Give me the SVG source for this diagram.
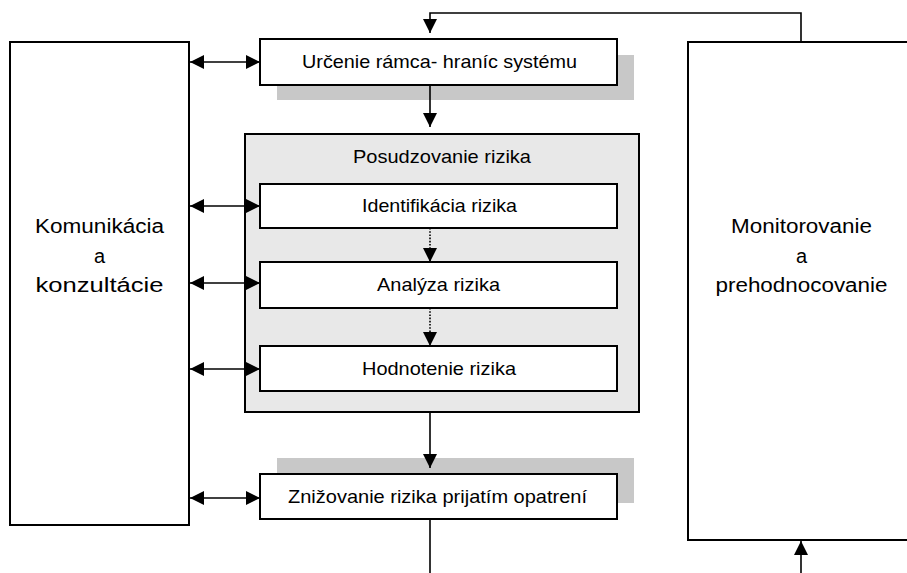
<svg xmlns="http://www.w3.org/2000/svg" width="907" height="573" viewBox="0 0 907 573">
<style>
.box{fill:#fff;stroke:#000;stroke-width:2}
.grp{fill:#e8e8e8;stroke:#000;stroke-width:2}
.shadow{fill:#c8c8c8;stroke:none}
.t{font-family:"Liberation Sans",Arial,sans-serif;font-size:18.5px;fill:#000;text-anchor:middle}
.big{font-family:"Liberation Sans",Arial,sans-serif;font-size:20px;fill:#000;text-anchor:middle}
.ln{fill:none;stroke:#000;stroke-width:1.6}
.dot{fill:none;stroke:#000;stroke-width:1.6;stroke-dasharray:1.6 1.6}
</style>
<defs>
<marker id="ah" markerUnits="userSpaceOnUse" markerWidth="14" markerHeight="14" refX="14" refY="7" orient="auto-start-reverse" viewBox="0 0 14 14">
<path d="M0,0 L14,7 L0,14 Z" fill="#000"/>
</marker>
</defs>

<g id="komunikacia">
<rect class="box" x="10" y="42" width="179" height="483"/>
<text class="big" x="99.5" y="233" textLength="129" lengthAdjust="spacingAndGlyphs">Komunikácia</text>
<text class="big" x="99.5" y="263">a</text>
<text class="big" x="99.5" y="292" textLength="128" lengthAdjust="spacingAndGlyphs">konzultácie</text>
</g>

<g id="monitorovanie">
<rect class="box" x="688" y="42" width="225" height="498"/>
<text class="big" x="801.5" y="233" textLength="141" lengthAdjust="spacingAndGlyphs">Monitorovanie</text>
<text class="big" x="801.5" y="263">a</text>
<text class="big" x="801.5" y="292" textLength="172" lengthAdjust="spacingAndGlyphs">prehodnocovanie</text>
</g>

<g id="urcenie">
<rect class="shadow" x="277" y="55" width="357" height="45"/>
<rect class="box" x="260" y="39" width="357" height="46"/>
<text class="t" x="439.5" y="68" textLength="275" lengthAdjust="spacingAndGlyphs">Určenie rámca- hraníc systému</text>
</g>

<g id="posudzovanie">
<rect class="grp" x="245" y="134" width="394" height="278"/>
<text class="t" x="442" y="163" textLength="178" lengthAdjust="spacingAndGlyphs">Posudzovanie rizika</text>
</g>

<g id="identifikacia">
<rect class="box" x="260" y="184" width="357" height="44"/>
<text class="t" x="439.5" y="212" textLength="155" lengthAdjust="spacingAndGlyphs">Identifikácia rizika</text>
</g>

<g id="analyza">
<rect class="box" x="260" y="262" width="357" height="46"/>
<text class="t" x="438.5" y="291" textLength="123" lengthAdjust="spacingAndGlyphs">Analýza rizika</text>
</g>

<g id="hodnotenie">
<rect class="box" x="260" y="346" width="357" height="45"/>
<text class="t" x="439" y="375" textLength="154" lengthAdjust="spacingAndGlyphs">Hodnotenie rizika</text>
</g>

<g id="znizovanie">
<rect class="shadow" x="277" y="458" width="357" height="45"/>
<rect class="box" x="260" y="474" width="357" height="45"/>
<text class="t" x="437.5" y="503" textLength="299" lengthAdjust="spacingAndGlyphs">Znižovanie rizika prijatím opatrení</text>
</g>

<g id="connectors">
<path class="ln" d="M801,42 V13 H430 V33" marker-end="url(#ah)"/>
<path class="ln" d="M430,85 V127" marker-end="url(#ah)"/>
<path class="dot" d="M430,228 V262" marker-end="url(#ah)"/>
<path class="dot" d="M430,308 V346" marker-end="url(#ah)"/>
<path class="ln" d="M430,412 V468" marker-end="url(#ah)"/>
<path class="ln" d="M430,519 V573"/>
<path class="ln" d="M801,573 V541" marker-end="url(#ah)"/>
<path class="ln" d="M190,62 H260" marker-start="url(#ah)" marker-end="url(#ah)"/>
<path class="ln" d="M190,206 H260" marker-start="url(#ah)" marker-end="url(#ah)"/>
<path class="ln" d="M190,283 H260" marker-start="url(#ah)" marker-end="url(#ah)"/>
<path class="ln" d="M190,369 H260" marker-start="url(#ah)" marker-end="url(#ah)"/>
<path class="ln" d="M190,498 H260" marker-start="url(#ah)" marker-end="url(#ah)"/>
</g>
</svg>
